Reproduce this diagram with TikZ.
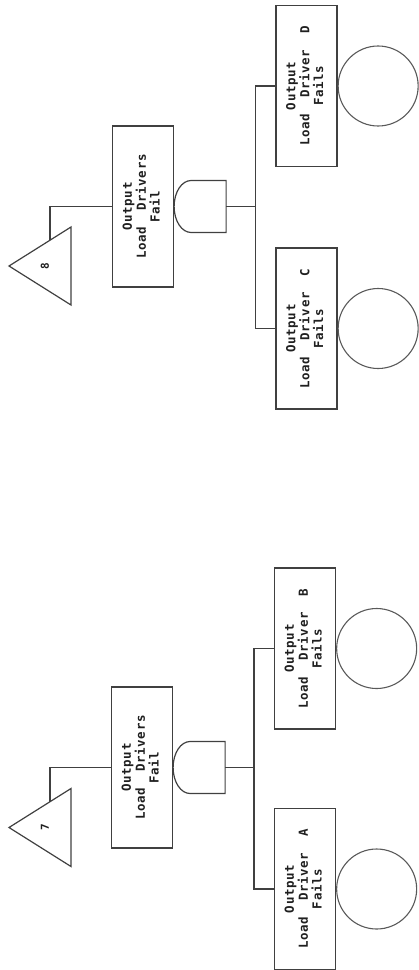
\documentclass[tikz,border=0pt]{standalone}
\usepackage{fontspec}
\usepackage{graphicx}
\usetikzlibrary{calc}
\newfontfamily\plotfont[LetterSpace=5]{DejaVu Sans Mono}
\definecolor{linecol}{gray}{0.25}
\definecolor{circcol}{gray}{0.35}
\definecolor{textcol}{gray}{0.12}
\newcommand{\boxtext}[3]{\rotatebox{90}{\plotfont\bfseries\fontsize{12.5}{12.5}\selectfont\begin{tabular}{@{}c@{}}#1\\#2\\#3\end{tabular}}}
\tikzset{
  ln/.style={draw=linecol, line width=1.2bp},
  evbox/.style={draw=linecol, line width=1.2bp, rectangle, minimum width=61bp, minimum height=161bp, inner sep=0pt, text=textcol},
  basic/.style={draw=circcol, line width=1.1bp, circle, minimum size=80bp, inner sep=0pt, anchor=west},
  numtext/.style={text=textcol, inner sep=0pt},
  andgate/.pic={
    \draw[ln] (17,-26) -- (52,-26) -- (52,26) -- (17,26)
      .. controls (7.6,26) and (0,14.4) .. (0,0)
      .. controls (0,-14.4) and (7.6,-26) .. (17,-26) -- cycle;
    \coordinate (-out) at (52,0);
  },
  transfer/.pic={
    \draw[ln] (0,-39) -- (0,39) -- (-62,0) -- cycle;
    \coordinate (-top) at (-21,-25.8);
    \coordinate (-mid) at (-26,0);
  }
}
\begin{document}
\begin{tikzpicture}[x=1bp,y=-1bp]
\useasboundingbox (0,0) rectangle (418,970);

% ---------- upper tree (8) ----------
\node[evbox] (fail8) at (143,206.5) {\boxtext{Output}{Load~~Drivers}{Fail}};
\pic (g8) at (fail8.east) {andgate};
\pic (t8) at (71,266) {transfer};
\node[numtext] (n8) at (t8-mid) {\rotatebox{90}{\plotfont\bfseries\fontsize{11}{11}\selectfont 8}};
\node[evbox] (boxD) at (306.5,86) {\boxtext{Output}{Load~~Driver~~D}{Fails}};
\node[evbox] (boxC) at (306.5,328.5) {\boxtext{Output}{Load~~Driver~~C}{Fails}};
\node[basic] (eD) at (boxD.east) {};
\node[basic] (eC) at (boxC.east) {};
\coordinate (b8) at ($(g8-out -| boxD.west)+(-20,0)$);
\draw[ln] (fail8.west) -| (t8-top);
\draw[ln] (g8-out) -- (b8);
\draw[ln] (boxD.west) -| (b8) |- (boxC.west);

% ---------- lower tree (7) ----------
\node[evbox] (fail7) at (142,767.5) {\boxtext{Output}{Load~~Drivers}{Fail}};
\pic (g7) at (fail7.east) {andgate};
\pic (t7) at (71,827.5) {transfer};
\node[numtext] (n7) at (t7-mid) {\rotatebox{90}{\plotfont\bfseries\fontsize{11}{11}\selectfont 7}};
\node[evbox] (boxB) at (305,648.5) {\boxtext{Output}{Load~~Driver~~B}{Fails}};
\node[evbox] (boxA) at (305,889) {\boxtext{Output}{Load~~Driver~~A}{Fails}};
\node[basic] (eB) at (boxB.east) {};
\node[basic] (eA) at (boxA.east) {};
\coordinate (b7) at ($(g7-out -| boxB.west)+(-20,0)$);
\draw[ln] (fail7.west) -| (t7-top);
\draw[ln] (g7-out) -- (b7);
\draw[ln] (boxB.west) -| (b7) |- (boxA.west);
\end{tikzpicture}
\end{document}
